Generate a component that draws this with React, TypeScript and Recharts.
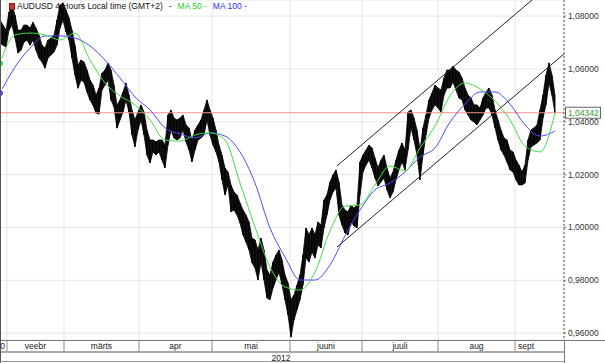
import { ComposedChart, Bar, Area, Line, XAxis, YAxis, CartesianGrid, ReferenceLine } from "recharts";

// AUDUSD 4h, squeezed to one bar per ~3px column. Highs/lows.
const W = 605;
const H = 363;
const AXIS_W = 41;
const PLOT_W = W - AXIS_W;
const PLOT_H = 340;
const X_MAX = 188;
const PX = PLOT_W / X_MAX;
const FONT = "'Liberation Sans', Arial, sans-serif";

const high = [
  1.0785, 1.0766, 1.0747, 1.0815, 1.0842, 1.0804, 1.0747, 1.0747, 1.0766, 1.0766,
  1.0755, 1.0777, 1.0755, 1.0728, 1.069, 1.0679, 1.0709, 1.0717, 1.0728, 1.0785,
  1.0842, 1.085, 1.0823, 1.0793, 1.0747, 1.069, 1.0615, 1.0634, 1.0626, 1.0596,
  1.0558, 1.0539, 1.0501, 1.0527, 1.0584, 1.0596, 1.0622, 1.0596, 1.0539, 1.0463,
  1.0482, 1.0513, 1.0547, 1.0501, 1.0445, 1.0407, 1.0437, 1.0464, 1.0437, 1.0369,
  1.0331, 1.0331, 1.0324, 1.0331, 1.0331, 1.0312, 1.0426, 1.0445, 1.0414, 1.0407,
  1.0414, 1.0426, 1.0388, 1.0377, 1.0331, 1.0369, 1.0388, 1.0407, 1.0445, 1.0483,
  1.0445, 1.0414, 1.0369, 1.0312, 1.0274, 1.0225, 1.021, 1.0161, 1.0134, 1.0123,
  1.0093, 1.0066, 1.0047, 1.0021, 0.996, 0.9953, 0.9915, 0.996, 0.9915, 0.9839,
  0.982, 0.9869, 0.9896, 0.9915, 0.9877, 0.982, 0.979, 0.9726, 0.9744, 0.9782,
  0.982, 0.9896, 0.9998, 0.9972, 0.9998, 0.9972, 1.0021, 1.0009, 1.0104, 1.0123,
  1.0172, 1.0199, 1.0218, 1.0172, 1.0085, 1.0066, 1.0059, 1.0085, 1.0074, 1.0085,
  1.0248, 1.0274, 1.0293, 1.0312, 1.0301, 1.0263, 1.0225, 1.0255, 1.0274, 1.0225,
  1.0187, 1.021, 1.0255, 1.0293, 1.032, 1.0293, 1.0437, 1.0445, 1.0414, 1.0369,
  1.0293, 1.0377, 1.0426, 1.0483, 1.0509, 1.0539, 1.0528, 1.052, 1.0566, 1.0596,
  1.0596, 1.0611, 1.0596, 1.0588, 1.0566, 1.0528, 1.0501, 1.049, 1.0464, 1.0464,
  1.0452, 1.049, 1.0513, 1.0528, 1.0501, 1.0445, 1.0407, 1.0369, 1.0339, 1.0331,
  1.0293, 1.0286, 1.0255, 1.0236, 1.021, 1.0236, 1.0331, 1.0369, 1.0377, 1.0388,
  1.0445, 1.0501, 1.0577, 1.0623, 1.0577, 1.0501,
];

const low = [
  1.0698, 1.069, 1.0683, 1.0747, 1.0766, 1.0717, 1.066, 1.0671, 1.0702, 1.0709,
  1.069, 1.0709, 1.0671, 1.0641, 1.0626, 1.0603, 1.0641, 1.0653, 1.0664, 1.069,
  1.0755, 1.0785, 1.074, 1.0709, 1.0641, 1.0577, 1.0527, 1.0558, 1.055, 1.0512,
  1.0482, 1.0463, 1.0433, 1.0429, 1.052, 1.0539, 1.0558, 1.0482, 1.0456, 1.0376,
  1.0407, 1.0437, 1.0482, 1.0437, 1.035, 1.0305, 1.0369, 1.0407, 1.035, 1.0274,
  1.0244, 1.0286, 1.0274, 1.0286, 1.0255, 1.0225, 1.0312, 1.0369, 1.0339, 1.0331,
  1.0339, 1.0369, 1.0324, 1.0293, 1.0248, 1.0293, 1.0331, 1.0339, 1.035, 1.0407,
  1.035, 1.0312, 1.0286, 1.0248, 1.018, 1.0123, 1.0161, 1.0059, 1.0066, 1.0047,
  1.0017, 0.9972, 0.9945, 0.9915, 0.9866, 0.9847, 0.9801, 0.9869, 0.9801, 0.9733,
  0.9726, 0.9771, 0.9801, 0.9831, 0.9782, 0.9726, 0.9669, 0.9585, 0.965, 0.9688,
  0.9726, 0.9782, 0.9884, 0.9869, 0.9907, 0.9884, 0.9934, 0.9922, 0.9998, 1.0047,
  1.0104, 1.0134, 1.0149, 1.0047, 1.0009, 0.9979, 0.9972, 1.0021, 1.0006, 0.9998,
  1.0123, 1.021, 1.0236, 1.0255, 1.0225, 1.0187, 1.0157, 1.0172, 1.0187, 1.0142,
  1.0112, 1.0134, 1.018, 1.0218, 1.0248, 1.0218, 1.0293, 1.0377, 1.0331, 1.0274,
  1.018, 1.0274, 1.035, 1.0414, 1.0445, 1.0464, 1.0452, 1.0437, 1.0501, 1.0528,
  1.0528, 1.0551, 1.052, 1.049, 1.0483, 1.0445, 1.0426, 1.0407, 1.0399, 1.0388,
  1.0407, 1.0426, 1.0452, 1.0452, 1.0426, 1.0377, 1.0331, 1.0293, 1.0274, 1.0248,
  1.0218, 1.021, 1.018, 1.0161, 1.0161, 1.0168, 1.0255, 1.0305, 1.0312, 1.032,
  1.0331, 1.0414, 1.0464, 1.0547, 1.0501, 1.0433,
];

// moving averages, read every 5th bar
const MA_STEP = 5;
const ma50 = [
  1.0622, 1.0729, 1.0736, 1.0729, 1.071, 1.0736, 1.0634, 1.0547, 1.0498, 1.0464,
  1.0407, 1.0331, 1.0327, 1.035, 1.0358, 1.0331, 1.0168, 1.0002, 0.985, 0.9775,
  0.9763, 0.9831, 0.9987, 1.0081, 1.0085, 1.0161, 1.0233, 1.0214, 1.0301, 1.0384,
  1.0498, 1.0547, 1.0524, 1.0479, 1.0407, 1.0308, 1.0286, 1.0433,
];
const ma100 = [
  1.0509, 1.0607, 1.0679, 1.0725, 1.0725, 1.0717, 1.0687, 1.0634, 1.0566, 1.0494,
  1.0445, 1.0377, 1.0354, 1.0339, 1.0358, 1.0346, 1.0286, 1.0168, 0.9998, 0.9888,
  0.9801, 0.9801, 0.9858, 0.9968, 1.0066, 1.0142, 1.0168, 1.021, 1.0267, 1.0301,
  1.0399, 1.0467, 1.0513, 1.0513, 1.0467, 1.0388, 1.0346, 1.0365,
];

const monthStarts = [2.33, 21.33, 46.33, 70.67, 96.67, 120.67, 146, 171.67];
const monthLabels = ["veebr", "märts", "apr", "mai", "juuni", "juuli", "aug", "sept"];
const priceTicks = [0.96, 0.98, 1.0, 1.02, 1.04, 1.06, 1.08];
const Y_DOMAIN = [0.9574, 1.0861];
const lastPrice = 1.04342;
const channelUpper = [{ x: 112.33, y: 1.0233 }, { x: 177.33, y: 1.0861 }];
const channelLower = [{ x: 112.33, y: 0.9926 }, { x: 188, y: 1.0657 }];
const yearTick = 93.67;

const data = high.map((h, i) => ({
  i,
  range: [low[i], h],
  ma50: i % MA_STEP === 0 ? ma50[i / MA_STEP] : null,
  ma100: i % MA_STEP === 0 ? ma100[i / MA_STEP] : null,
}));

const fmt = (v: number) => v.toFixed(5).replace(".", ",");

// thin high-low stick, centred in the slot recharts gives the bar
function Stick(props: any) {
  const { x, y, width, height } = props;
  if (height == null || isNaN(y)) return null;
  const cx = x + width / 2;
  return <rect x={cx - 0.6} y={y} width={1.2} height={Math.max(height, 1)} fill="#000" />;
}

function MonthTick(props: any) {
  const { x, index } = props;
  const top = PLOT_H;
  const ty = top + 9;
  const hasNext = index + 1 < monthStarts.length;
  const nextX = hasNext ? x + (monthStarts[index + 1] - monthStarts[index]) * PX : 0;
  const txt = { fontSize: 8.5, fill: "#222", fontFamily: FONT };
  return (
    <g>
      {index === 0 && (
        <g>
          <line x1={0} x2={W} y1={top + 0.5} y2={top + 0.5} stroke="#777" />
          <line x1={PLOT_W + 0.5} x2={PLOT_W + 0.5} y1={top} y2={H} stroke="#777" />
          <line x1={0.5} x2={0.5} y1={0} y2={H} stroke="#555" />
          <text x={x - 2} y={ty} textAnchor="end" {...txt}>0</text>
        </g>
      )}
      <line x1={x} x2={x} y1={top} y2={top + 12} stroke="#888" />
      {hasNext ? (
        <text x={(x + nextX) / 2} y={ty} textAnchor="middle" {...txt}>{monthLabels[index]}</text>
      ) : (
        <text x={x + 3} y={ty} textAnchor="start" {...txt}>{monthLabels[index]}</text>
      )}
    </g>
  );
}

function YearTick(props: any) {
  const { x } = props;
  return (
    <g>
      <line x1={0} x2={PLOT_W} y1={H - 1.5} y2={H - 1.5} stroke="#999" />
      <text x={x} y={PLOT_H + 21} textAnchor="middle" fontSize={8.5} fill="#222" fontFamily={FONT}>
        2012
      </text>
    </g>
  );
}

function PriceTick(props: any) {
  const { y, payload } = props;
  return (
    <g>
      <line x1={PLOT_W} x2={PLOT_W + 2} y1={y} y2={y} stroke="#666" />
      <text x={PLOT_W + 4} y={y + 3} fontSize={8.5} fill="#333" fontFamily={FONT}>
        {fmt(payload.value)}
      </text>
    </g>
  );
}

function PriceTag(props: any) {
  const vb = props.viewBox || {};
  const y = vb.y ?? 113;
  const x = (vb.x ?? 0) + (vb.width ?? PLOT_W) + 1;
  return (
    <g>
      <rect x={x + 0.5} y={y - 5.5} width={35} height={11} fill="#fff" stroke="#666" />
      <text x={x + 3} y={y + 3} fontSize={8.5} fill="#2f9a2f" fontFamily={FONT}>
        {fmt(lastPrice)}
      </text>
    </g>
  );
}

export default function App() {
  return (
    <div style={{ position: "absolute", left: 0, top: 0, width: W, height: H, background: "#fff" }}>
      <ComposedChart width={W} height={H} data={data} margin={{ top: 0, right: 0, bottom: 0, left: 0 }}>
        <CartesianGrid stroke="#e6e6e6" />
        <XAxis
          dataKey="i"
          type="number"
          domain={[0, X_MAX]}
          allowDataOverflow
          ticks={monthStarts}
          interval={0}
          height={12}
          axisLine={false}
          tickLine={false}
          tick={<MonthTick />}
        />
        <XAxis
          xAxisId="year"
          dataKey="i"
          type="number"
          domain={[0, X_MAX]}
          allowDataOverflow
          ticks={[yearTick]}
          interval={0}
          height={11}
          axisLine={{ stroke: "#aaa", strokeWidth: 2 }}
          tickLine={false}
          tick={<YearTick />}
        />
        <YAxis
          orientation="right"
          width={AXIS_W}
          domain={Y_DOMAIN}
          allowDataOverflow
          ticks={priceTicks}
          interval={0}
          axisLine={{ stroke: "#555", strokeDasharray: "2 2" }}
          tickLine={false}
          tick={<PriceTick />}
        />
        <ReferenceLine y={lastPrice} stroke="#f09090" label={<PriceTag />} />
        <Area
          type="linear"
          dataKey="range"
          fill="#111"
          fillOpacity={1}
          stroke="#000"
          strokeWidth={0.8}
          dot={false}
          activeDot={false}
          isAnimationActive={false}
        />
        <Bar dataKey="range" shape={<Stick />} barSize={3} isAnimationActive={false} />
        <Line type="monotone" dataKey="ma100" stroke="#4b4bff" strokeWidth={1} dot={false} connectNulls isAnimationActive={false} />
        <Line type="monotone" dataKey="ma50" stroke="#3ee03e" strokeWidth={1} dot={false} connectNulls isAnimationActive={false} />
        <ReferenceLine segment={channelUpper} stroke="#222" ifOverflow="visible" />
        <ReferenceLine segment={channelLower} stroke="#222" ifOverflow="visible" />
      </ComposedChart>
      <div
        style={{
          position: "absolute",
          left: 9,
          top: 1,
          fontFamily: FONT,
          fontSize: 8.5,
          lineHeight: "10px",
          whiteSpace: "nowrap",
          display: "flex",
          alignItems: "center",
        }}
      >
        <span style={{ width: 6, height: 7, background: "#c83232", border: "1px solid #8a1a1a", boxSizing: "border-box", marginRight: 2 }} />
        <span style={{ color: "#111" }}>AUDUSD 4 Hours Local time (GMT+2)</span>
        <span style={{ color: "#111", marginLeft: 6 }}>-</span>
        <span style={{ color: "#1fc81f", marginLeft: 6 }}>MA 50 -</span>
        <span style={{ color: "#2b2bff", marginLeft: 6 }}>MA 100 -</span>
      </div>
    </div>
  );
}
